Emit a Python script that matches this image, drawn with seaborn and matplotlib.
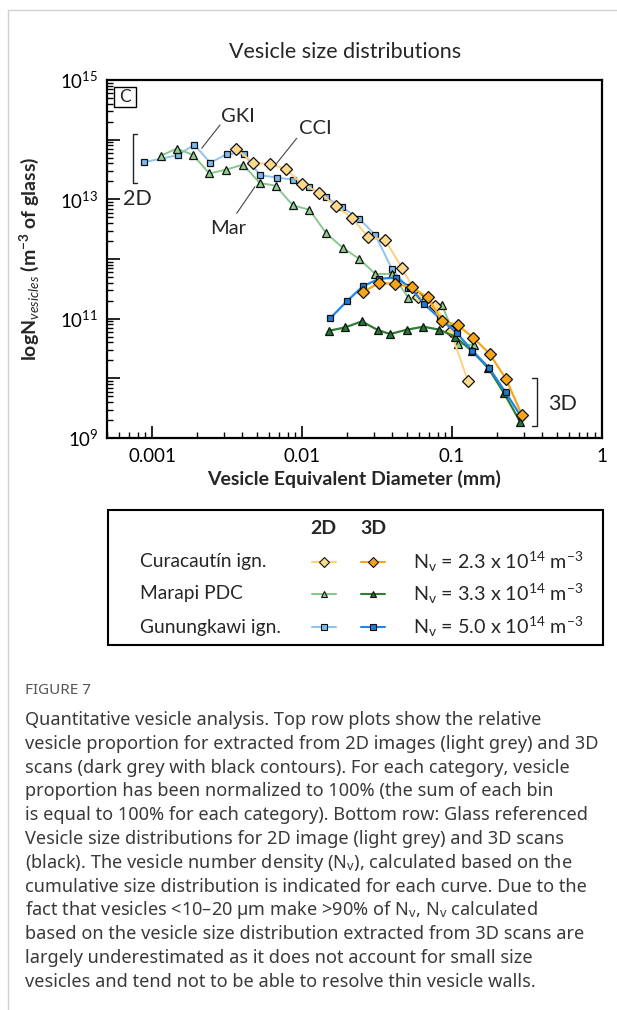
import numpy as np
import matplotlib
matplotlib.use("Agg")
import matplotlib.pyplot as plt
import seaborn as sns
from matplotlib.ticker import LogLocator, NullFormatter, FuncFormatter
from matplotlib.patches import Rectangle

# ---------------- data (diameter in mm, N in m^-3 of glass) ----------------
gki_2d_d = [0.00088, 0.00148, 0.00191, 0.00244, 0.00316, 0.00407, 0.00525, 0.00681,
            0.00865, 0.0111, 0.01434, 0.01848, 0.02399, 0.03082, 0.0398, 0.0509]
gki_2d_n = [4.19e13, 5.48e13, 8.24e13, 4.1e13, 5.77e13, 5.86e13, 2.53e13, 2.32e13,
            2.13e13, 1.64e13, 1.09e13, 7.35e12, 4.74e12, 2.51e12, 6.75e11, 3.32e11]

mar_2d_d = [0.00114, 0.00146, 0.00187, 0.00241, 0.00313, 0.00404, 0.00522, 0.00668,
            0.00867, 0.01119, 0.01445, 0.01867, 0.02399, 0.03082, 0.0398, 0.05113,
            0.0854, 0.1096, 0.1408]
mar_2d_n = [5.35e13, 7.1e13, 5.56e13, 2.71e13, 3.16e13, 3.83e13, 1.88e13, 1.69e13,
            7.92e12, 6.71e12, 2.72e12, 1.54e12, 1.01e12, 5.6e11, 5.64e11, 2.23e11,
            1.72e11, 3.76e10, 3.59e10]

cci_2d_d = [0.00363, 0.00471, 0.00607, 0.00776, 0.01005, 0.01298, 0.01678, 0.02145,
            0.02767, 0.03575, 0.04621, 0.05961, 0.0770, 0.0980, 0.1273]
cci_2d_n = [7.0e13, 4.14e13, 3.88e13, 3.26e13, 1.79e13, 1.30e13, 7.71e12, 4.92e12,
            2.32e12, 2.10e12, 7.2e11, 2.28e11, 1.65e11, 6.17e10, 9.1e9]

gki_3d_d = [0.01537, 0.01986, 0.02539, 0.0326, 0.042, 0.0525, 0.065, 0.0832,
            0.1072, 0.1365, 0.1765, 0.228, 0.287]
gki_3d_n = [1.01e11, 1.95e11, 3.49e11, 4.65e11, 4.89e11, 3.36e11, 1.77e11, 1.0e11,
            5.82e10, 2.9e10, 1.5e10, 5.8e9, 2.34e9]

mar_3d_d = [0.0152, 0.01935, 0.025, 0.032, 0.0386, 0.0499, 0.0644, 0.0823,
            0.1047, 0.1353, 0.1746, 0.2222, 0.284]
mar_3d_n = [6.28e10, 7.14e10, 9.0e10, 6.45e10, 5.53e10, 6.53e10, 7.34e10, 6.53e10,
            4.98e10, 2.9e10, 1.48e10, 5.64e9, 1.88e9]

cci_3d_d = [0.02539, 0.0326, 0.0419, 0.0539, 0.0687, 0.0854, 0.1088, 0.1387,
            0.1778, 0.2284, 0.2929]
cci_3d_n = [2.77e11, 3.98e11, 3.83e11, 3.36e11, 2.28e11, 9.25e10, 7.78e10, 4.8e10,
            2.58e10, 9.9e9, 2.41e9]

samples = ["Curacautín ign.", "Marapi PDC", "Gunungkawi ign."]
nv_mant = ["2.3", "3.3", "5.0"]
nv_exp = [14, 14, 14]

x_ticks = [0.001, 0.01, 0.1, 1]
x_tick_labels = ["0.001", "0.01", "0.1", "1"]

caption_lines = [
    "Quantitative vesicle analysis. Top row plots show the relative",
    "vesicle proportion for extracted from 2D images (light grey) and 3D",
    "scans (dark grey with black contours). For each category, vesicle",
    "proportion has been normalized to 100% (the sum of each bin",
    "is equal to 100% for each category). Bottom row: Glass referenced",
    "Vesicle size distributions for 2D image (light grey) and 3D scans",
    "(black). The vesicle number density (N$_\\mathregular{v}$), calculated based on the",
    "cumulative size distribution is indicated for each curve. Due to the",
    "fact that vesicles <10\u201320 \u00b5m make >90% of N$_\\mathregular{v}$, N$_\\mathregular{v}$ calculated",
    "based on the vesicle size distribution extracted from 3D scans are",
    "largely underestimated as it does not account for small size",
    "vesicles and tend not to be able to resolve thin vesicle walls.",
]

# ---------------- style ----------------
sns.set_theme(style="white")
plt.rcParams['font.family'] = ['Lato', 'DejaVu Sans']
plt.rcParams['mathtext.fontset'] = 'custom'
plt.rcParams['mathtext.rm'] = 'Lato'
plt.rcParams['mathtext.it'] = 'Lato:italic'
plt.rcParams['mathtext.bf'] = 'Lato:bold'

colors = {
    "cci2": ("#FFD98A", "#FFCF7A"), "cci3": ("#F9A51A", "#F9A51A"),
    "mar2": ("#8FCE8F", "#86C98A"), "mar3": ("#1F7A33", "#2E7D32"),
    "gki2": ("#7DB9EC", "#8EC3F2"), "gki3": ("#1C7ADB", "#1E86E8"),
}

fig = plt.figure(figsize=(6.17, 10.10), dpi=100)
ax = fig.add_axes([107/617, 1-438/1010, (602-107)/617, (438-80)/1010])
ax.set_xscale('log')
ax.set_yscale('log')


def draw(d, n, key, marker, ms, lw, z):
    fc, lc = colors[key]
    sns.lineplot(x=d, y=n, ax=ax, color=lc, marker=marker, markersize=ms,
                 markerfacecolor=fc, markeredgecolor='#111111', markeredgewidth=0.9,
                 linewidth=lw, estimator=None, sort=False, zorder=z, legend=False)


draw(gki_2d_d, gki_2d_n, "gki2", 's', 5.0, 1.4, 3)
draw(mar_2d_d, mar_2d_n, "mar2", '^', 6.0, 1.4, 3)
draw(cci_2d_d, cci_2d_n, "cci2", 'D', 6.0, 1.4, 4)
draw(mar_3d_d, mar_3d_n, "mar3", '^', 6.0, 1.6, 5)
draw(gki_3d_d, gki_3d_n, "gki3", 's', 5.0, 1.6, 5)
draw(cci_3d_d, cci_3d_n, "cci3", 'D', 6.0, 1.6, 6)

ax.set_xlim(0.0005, 1)
ax.set_ylim(1e9, 1e15)
ax.set_xticks(x_ticks)
ax.set_xticklabels(x_tick_labels)
ax.xaxis.set_minor_locator(LogLocator(base=10, subs=np.arange(2, 10), numticks=20))
ax.xaxis.set_minor_formatter(NullFormatter())
ax.yaxis.set_major_locator(LogLocator(base=10, numticks=20))
ax.yaxis.set_major_formatter(FuncFormatter(
    lambda v, p: (f"$10^{{{int(round(np.log10(v)))}}}$" if int(round(np.log10(v))) % 2 == 1 else "")))
ax.yaxis.set_minor_locator(LogLocator(base=10, subs=np.arange(2, 10), numticks=20))
ax.yaxis.set_minor_formatter(NullFormatter())
ax.tick_params(axis='both', which='major', direction='in', length=9, width=1.2,
               labelsize=13.5, color='black', labelcolor='black')
ax.tick_params(axis='both', which='minor', direction='in', length=4.5, width=1.0, color='black')
ax.tick_params(axis='x', which='both', top=False, bottom=True, pad=7)
ax.tick_params(axis='y', which='both', left=True, right=False, pad=6)
for s in ax.spines.values():
    s.set_color('black')
    s.set_linewidth(1.6)
ax.set_xlabel("Vesicle Equivalent Diameter (mm)", fontsize=14, fontweight='bold', labelpad=4)
ax.set_ylabel(r"logN$_{\mathit{vesicles}}$ (m$^{\mathbf{-3}}$ of glass)", fontsize=14,
              fontweight='bold', labelpad=14)

# ---------------- overlay (annotations, legend, caption) ----------------
ov = fig.add_axes([0, 0, 1, 1])
ov.set_xlim(0, 617)
ov.set_ylim(1010, 0)
ov.axis('off')
ov.patch.set_alpha(0)

ov.plot([8, 617], [10, 10], color='#d0d0d0', lw=1)
ov.plot([8, 8], [10, 1010], color='#d0d0d0', lw=1)

ov.text(345, 52, "Vesicle size distributions", ha='center', va='center', fontsize=15.5)

ov.add_patch(Rectangle((114, 87), 22, 20, fill=False, ec='black', lw=1.0))
ov.text(125, 97.5, "C", ha='center', va='center', fontsize=12.5)

ov.text(238, 116, "GKI", ha='center', va='center', fontsize=14.5)
ov.plot([220, 201.7], [125, 148.3], color='#444444', lw=0.8)
ov.text(315, 128, "CCI", ha='center', va='center', fontsize=14.5)
ov.plot([296.7, 276.7], [138.3, 163.3], color='#444444', lw=0.8)
ov.text(228, 228, "Mar", ha='center', va='center', fontsize=14.5)
ov.plot([236.7, 255], [213.3, 186.7], color='#444444', lw=0.8)

ov.plot([137, 133.3, 133.3, 137], [134, 134, 183.3, 183.3], color='#222222', lw=1.0)
ov.text(137.5, 199, "2D", ha='center', va='center', fontsize=15.5)
ov.plot([532, 537.3, 537.3, 532], [378.3, 378.3, 426, 426], color='#222222', lw=1.0)
ov.text(562.5, 404, "3D", ha='center', va='center', fontsize=15.5)

# legend box
ov.add_patch(Rectangle((108, 510), 495, 135, fill=False, ec='black', lw=1.5))
ov.text(323, 528, "2D", ha='center', va='center', fontsize=14, fontweight='bold')
ov.text(373, 528, "3D", ha='center', va='center', fontsize=14, fontweight='bold')
leg_keys = [("cci2", "cci3", 'D', 5.0), ("mar2", "mar3", '^', 5.0), ("gki2", "gki3", 's', 3.8)]
row_y = [562, 594, 627]
for lab, mant, ex, (k2, k3, mk, ms), yy in zip(samples, nv_mant, nv_exp, leg_keys, row_y):
    ov.text(140, yy, lab, ha='left', va='center', fontsize=13.8)
    for key, x0, x1 in [(k2, 312, 336), (k3, 361, 385)]:
        fc, lc = colors[key]
        ov.plot([x0, x1], [yy, yy], color=lc, lw=1.5)
        ov.plot([(x0 + x1) / 2], [yy], marker=mk, ms=ms, mfc=fc, mec='#111111', mew=0.8)
    ov.text(413, yy, f"N$_\\mathregular{{v}}$ = {mant} x 10$^{{{ex}}}$ m$^{{-3}}$",
            ha='left', va='center', fontsize=14.2)

# caption
ov.text(25, 690, "FIGURE 7", ha='left', va='center', fontsize=11, color='#555555',
        family=['Noto Sans', 'DejaVu Sans'])
for i, line in enumerate(caption_lines):
    ov.text(25, 720 + 23.8 * i, line, ha='left', va='center', fontsize=13.1,
            color='#3a3a3a', family=['Noto Sans', 'DejaVu Sans'])

fig.savefig("out.png", dpi=100)
